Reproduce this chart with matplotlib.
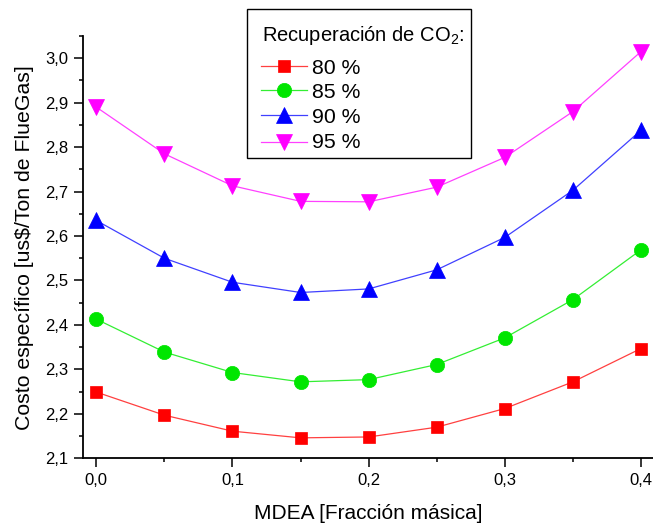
import matplotlib
matplotlib.use("Agg")
import matplotlib.pyplot as plt
from matplotlib.lines import Line2D
from matplotlib.patches import Rectangle
from matplotlib.ticker import MultipleLocator, FuncFormatter

plt.rcParams['font.family'] = ['Liberation Sans', 'DejaVu Sans']
plt.rcParams['mathtext.fontset'] = 'custom'
plt.rcParams['mathtext.rm'] = 'Liberation Sans'

mdea = [0.0, 0.05, 0.10, 0.15, 0.20, 0.25, 0.30, 0.35, 0.40]
cost_80 = [2.249, 2.197, 2.161, 2.146, 2.148, 2.170, 2.212, 2.272, 2.347]
cost_85 = [2.413, 2.339, 2.293, 2.272, 2.277, 2.311, 2.371, 2.457, 2.569]
cost_90 = [2.635, 2.550, 2.496, 2.473, 2.481, 2.524, 2.597, 2.703, 2.838]
cost_95 = [2.890, 2.785, 2.713, 2.678, 2.677, 2.710, 2.777, 2.880, 3.015]
labels = ["80 %", "85 %", "90 %", "95 %"]
legend_title = "Recuperación de CO$_2$:"

W, H = 653, 524
fig = plt.figure(figsize=(W / 100, H / 100), dpi=100)


def fx(px):
    return px / W


def fy(py):
    return 1 - py / H


ax = fig.add_axes([fx(82.7), fy(458.3), (W - 82.7) / W, (458.3 - 36) / H])

styles = [
    dict(color='#ff0000', marker='s', ms=9.0),
    dict(color='#00e600', marker='o', ms=10.3),
    dict(color='#0000ff', marker='^', ms=11.5),
    dict(color='#ff00ff', marker='v', ms=11.5),
]
line_colors = ['#ff4040', '#33ee33', '#4040ff', '#ff40ff']
series = [cost_80, cost_85, cost_90, cost_95]
for ys, st, lc in zip(series, styles, line_colors):
    ax.plot(mdea, ys, color=lc, lw=0.9, marker=st['marker'], ms=st['ms'],
            markerfacecolor=st['color'], markeredgecolor=st['color'],
            markeredgewidth=0.5, clip_on=False, zorder=3)

ax.set_xlim(-0.010, 0.4088)
ax.set_ylim(2.1, 3.05)

ax.xaxis.set_major_locator(MultipleLocator(0.1))
ax.xaxis.set_minor_locator(MultipleLocator(0.05))
ax.yaxis.set_major_locator(MultipleLocator(0.1))
ax.yaxis.set_minor_locator(MultipleLocator(0.05))
comma = FuncFormatter(lambda v, p: f"{v:.1f}".replace('.', ','))
ax.xaxis.set_major_formatter(comma)
ax.yaxis.set_major_formatter(comma)

for s in ['top', 'right']:
    ax.spines[s].set_visible(False)
for s in ['left', 'bottom']:
    ax.spines[s].set_linewidth(1.3)

ax.tick_params(which='major', direction='out', length=6.3, width=1.1, labelsize=12, pad=4)
ax.tick_params(which='minor', direction='out', length=2.8, width=1.1)

ax.set_xlabel("MDEA [Fracción másica]", fontsize=15, labelpad=12)
ax.set_ylabel("Costo específico [us\\$/Ton de FlueGas]", fontsize=15.3, labelpad=8)

# Boxed legend drawn in figure pixel coordinates
fig.add_artist(Rectangle((fx(247.3), fy(158)), fx(471) - fx(247.3), fy(9) - fy(158),
                         transform=fig.transFigure, facecolor='white',
                         edgecolor='black', lw=1.0, zorder=5))
fig.text(fx(261.5), fy(40.7), legend_title, fontsize=14.5, va='baseline', ha='left', zorder=6)
row_marker_y = [65.7, 90.0, 114.5, 142.0]
row_text_y = [74.0, 98.3, 122.7, 148.3]
for st, lc, lab, my, ty in zip(styles, line_colors, labels, row_marker_y, row_text_y):
    fig.add_artist(Line2D([fx(260.7), fx(306.7)], [fy(my), fy(my)], transform=fig.transFigure,
                          color=lc, lw=0.9, zorder=6))
    fig.add_artist(Line2D([fx(283.7)], [fy(my)], transform=fig.transFigure, ls='none',
                          marker=st['marker'], ms=st['ms'], markerfacecolor=st['color'],
                          markeredgecolor=st['color'], markeredgewidth=0.5, zorder=7))
    fig.text(fx(311.7), fy(ty), lab, fontsize=15.3, va='baseline', ha='left', zorder=6)

fig.savefig("out.png", dpi=100)
